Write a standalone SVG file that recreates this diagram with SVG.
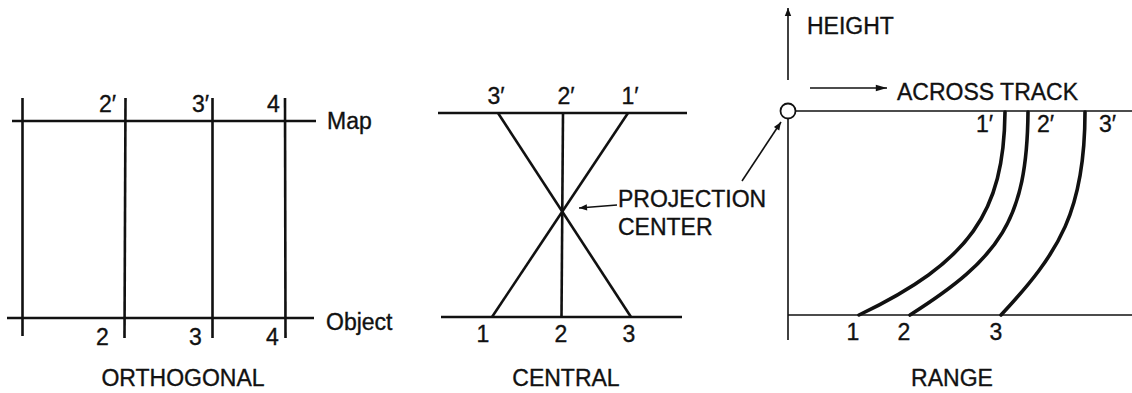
<svg xmlns="http://www.w3.org/2000/svg" width="1132" height="393" viewBox="0 0 1132 393">
<style>
text{font-family:"Liberation Sans",Arial,sans-serif;font-size:23px;fill:#111;stroke:#111;stroke-width:0.35}
.thick{stroke:#111;stroke-width:2.6;fill:none;stroke-linecap:butt}
.thin{stroke:#111;stroke-width:1.6;fill:none}
.curve{stroke:#111;stroke-width:3.6;fill:none;stroke-linecap:round}
.mid{text-anchor:middle}
</style>
<defs>
<marker id="ah" viewBox="0 0 10 10" refX="10" refY="5" markerWidth="11" markerHeight="8" markerUnits="userSpaceOnUse" orient="auto">
<path d="M0,1 L10,5 L0,9 Z" fill="#111"/>
</marker>
<marker id="ahl" viewBox="0 0 14 10" refX="14" refY="5" markerWidth="14" markerHeight="8" markerUnits="userSpaceOnUse" orient="auto">
<path d="M0,1 L14,5 L0,9 Z" fill="#111"/>
</marker>
</defs>

<g id="orthogonal">
<line class="thick" x1="12" y1="121" x2="316" y2="121"/>
<line class="thick" x1="7" y1="318" x2="314" y2="318"/>
<line class="thick" x1="22.5" y1="98" x2="22.5" y2="336"/>
<line class="thick" x1="125.5" y1="98" x2="124.5" y2="338"/>
<line class="thick" x1="212.5" y1="98" x2="212.5" y2="338"/>
<line class="thick" x1="285" y1="98" x2="285.5" y2="338"/>
<text x="99" y="112">2′</text>
<text x="192" y="112">3′</text>
<text x="267" y="112">4</text>
<text x="96" y="345">2</text>
<text x="189" y="345">3</text>
<text x="266" y="345">4</text>
<text x="327" y="129">Map</text>
<text x="326" y="330">Object</text>
<text class="mid" x="183" y="386">ORTHOGONAL</text>
</g>

<g id="central">
<line class="thick" x1="438" y1="113" x2="687" y2="113"/>
<line class="thick" x1="441" y1="317" x2="682" y2="317"/>
<line class="thick" x1="498" y1="113" x2="631" y2="317"/>
<line class="thick" x1="628" y1="113" x2="492" y2="317"/>
<line class="thick" x1="563" y1="113" x2="561.5" y2="317"/>
<text class="mid" x="496" y="104">3′</text>
<text class="mid" x="566" y="104">2′</text>
<text class="mid" x="630" y="104">1′</text>
<text class="mid" x="483" y="342">1</text>
<text class="mid" x="561" y="342">2</text>
<text class="mid" x="629" y="342">3</text>
<text x="618" y="207">PROJECTION</text>
<text x="618" y="235">CENTER</text>
<text class="mid" x="566" y="386">CENTRAL</text>
</g>

<g id="range">
<circle cx="788" cy="111" r="7.5" fill="#fff" stroke="#111" stroke-width="1.8"/>
<line class="thin" x1="795.5" y1="111" x2="1132" y2="111"/>
<line class="thin" x1="788" y1="118.5" x2="788" y2="340"/>
<line class="thin" x1="788" y1="315" x2="1132" y2="315"/>
<path class="curve" d="M1005,112 C1004,212 970,262 859,315"/>
<path class="curve" d="M1028,112 C1027,220 1000,258 910,315"/>
<path class="curve" d="M1085,112 C1085,210 1060,252 1001,315"/>
<text x="976" y="132">1′</text>
<text x="1037" y="132">2′</text>
<text x="1099" y="132">3′</text>
<text class="mid" x="853" y="340">1</text>
<text class="mid" x="904" y="340">2</text>
<text class="mid" x="996" y="340">3</text>
<text x="807" y="34">HEIGHT</text>
<text x="897" y="100">ACROSS TRACK</text>
<text class="mid" x="952" y="386">RANGE</text>
</g>

<g id="connectors">
<line class="thin" x1="617" y1="205" x2="579" y2="208" marker-end="url(#ah)"/>
<line class="thin" x1="742" y1="181" x2="781" y2="122" marker-end="url(#ah)"/>
<line class="thin" x1="788" y1="80" x2="788" y2="8" marker-end="url(#ah)"/>
<line class="thin" x1="810" y1="88" x2="887" y2="88" marker-end="url(#ahl)"/>
</g>
</svg>
